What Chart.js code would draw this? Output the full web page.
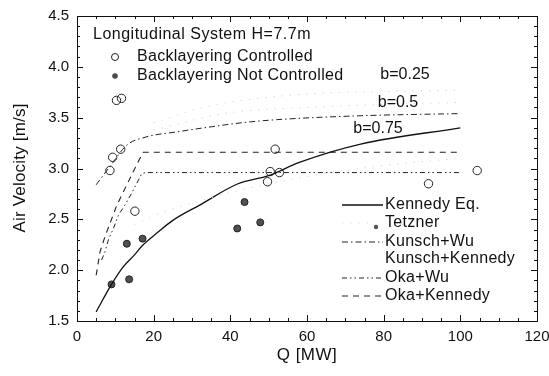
<!DOCTYPE html>
<html><head><meta charset="utf-8">
<script src="https://cdn.jsdelivr.net/npm/chart.js@4/dist/chart.umd.min.js"></script>
<style>html,body{margin:0;padding:0;background:#fff}</style>
</head><body>
<canvas id="c" width="549" height="376" style="width:549px;height:376px;display:block"></canvas>
<script>
// ---- data ----
const controlledQ = [10.3, 11.6, 11.4, 9.3, 8.6, 15.1, 51.7, 50.4, 49.7, 52.8, 104.4, 91.7];
const controlledV = [3.67, 3.69, 3.19, 3.11, 2.98, 2.58, 3.19, 2.97, 2.87, 2.96, 2.98, 2.85];
const notControlledQ = [13.0, 17.1, 13.6, 9.0, 43.7, 47.8, 41.8];
const notControlledV = [2.26, 2.31, 1.91, 1.86, 2.67, 2.47, 2.41];
const kennedyQ = [5, 9, 12, 15, 17, 21, 25, 32, 42, 50, 58, 74, 100];
const kennedyV = [1.59, 1.86, 2.03, 2.15, 2.24, 2.37, 2.49, 2.64, 2.85, 2.93, 3.06, 3.24, 3.40];
const kunschWuQ = [5, 8.6, 13, 18, 26, 35, 43, 52, 75, 100];
const kunschWuV = [2.84, 3.02, 3.23, 3.31, 3.36, 3.41, 3.45, 3.48, 3.52, 3.54];
const okaKennedyQ = [5, 6, 7.3, 8.6, 10.4, 11.7, 14.3, 16, 17.3, 100];
const okaKennedyV = [1.95, 2.18, 2.33, 2.46, 2.64, 2.74, 2.94, 3.07, 3.16, 3.16];
const okaWuQ = [6.4, 7.3, 8.2, 9.5, 10.8, 12.5, 14.3, 16.9, 18, 100];
const okaWuV = [2.10, 2.18, 2.30, 2.41, 2.54, 2.64, 2.76, 2.95, 2.96, 2.96];
const kunschKennedyQ = [20, 35, 50, 63, 70, 85, 100];
const kunschKennedyV = [3.45, 3.62, 3.70, 3.74, 3.75, 3.76, 3.77];
const kunschKennedy2Q = [20, 40, 60, 80, 90, 100];
const kunschKennedy2V = [3.38, 3.55, 3.60, 3.63, 3.64, 3.65];
const tetznerQ = [15, 23, 32, 43, 60, 80, 100];
const tetznerV = [2.45, 2.58, 2.68, 2.79, 2.92, 3.03, 3.10];
const xTickLabels = [0, 20, 40, 60, 80, 100, 120];
const yTickLabels = [1.5, 2.0, 2.5, 3.0, 3.5, 4.0, 4.5];
const legendTitle = 'Longitudinal System H=7.7m';
const curveLabels = ['b=0.25', 'b=0.5', 'b=0.75'];

const pts = (qs, vs) => qs.map((q, i) => ({x: q, y: vs[i]}));
const INK = '#111';
const FONT = '"Liberation Sans", Arial, sans-serif';

const styles = {
  kennedy: {dash: [], width: 1.3, color: INK},
  kunschWu: {dash: [6, 3, 1.5, 3], width: 1, color: '#222'},
  okaWu: {dash: [5, 3, 1.5, 3, 1.5, 3], width: 1, color: '#222'},
  okaKennedy: {dash: [6, 5], width: 1.1, color: '#222'},
  faint: {dash: [1.2, 7], width: 1, color: '#d2d2d2'}
};

function lineDs(label, qs, vs, st, mono) {
  return {label, data: pts(qs, vs), showLine: true, pointRadius: 0, borderColor: st.color,
    borderWidth: st.width, borderDash: st.dash, tension: 0, cubicInterpolationMode: mono ? 'monotone' : 'default', fill: false};
}

const datasets = [
  lineDs('Kunsch+Kennedy', kunschKennedyQ, kunschKennedyV, styles.faint, true),
  lineDs('Kunsch+Kennedy b=0.5', kunschKennedy2Q, kunschKennedy2V, styles.faint, true),
  lineDs('Tetzner', tetznerQ, tetznerV, styles.faint, true),
  lineDs('Kennedy Eq.', kennedyQ, kennedyV, styles.kennedy, true),
  lineDs('Kunsch+Wu', kunschWuQ, kunschWuV, styles.kunschWu, true),
  lineDs('Oka+Wu', okaWuQ, okaWuV, styles.okaWu, false),
  lineDs('Oka+Kennedy', okaKennedyQ, okaKennedyV, styles.okaKennedy, false),
  {label: 'Backlayering Controlled', data: pts(controlledQ, controlledV), showLine: false,
    pointRadius: 4.2, pointBackgroundColor: 'rgba(255,255,255,0)', pointBorderColor: '#222', pointBorderWidth: 1},
  {label: 'Backlayering Not Controlled', data: pts(notControlledQ, notControlledV), showLine: false,
    pointRadius: 3.5, pointBackgroundColor: '#505050', pointBorderColor: '#222', pointBorderWidth: 1}
];

function txt(ctx, s, x, y, size, align, spacing) {
  ctx.font = size + 'px ' + FONT;
  ctx.letterSpacing = (spacing || 0) + 'px';
  ctx.textAlign = align || 'left';
  ctx.textBaseline = 'middle';
  ctx.fillStyle = INK;
  ctx.fillText(s, x, y);
  ctx.letterSpacing = '0px';
}
function seg(ctx, x1, y1, x2, y2, st) {
  ctx.save();
  ctx.strokeStyle = st.color; ctx.lineWidth = st.width; ctx.setLineDash(st.dash);
  ctx.beginPath(); ctx.moveTo(x1, y1); ctx.lineTo(x2, y2); ctx.stroke();
  ctx.restore();
}

const decor = {
  id: 'decor',
  afterDraw(chart) {
    const {ctx, chartArea: a, scales: {x, y}} = chart;
    ctx.save();
    ctx.strokeStyle = INK; ctx.lineWidth = 1; ctx.setLineDash([]);
    ctx.strokeRect(Math.round(a.left) + 0.5, Math.round(a.top) + 0.5, Math.round(a.right - a.left), Math.round(a.bottom - a.top));
    ctx.beginPath();
    for (let i = 0; i <= 24; i++) {
      const px = Math.round(x.getPixelForValue(i * 5)) + 0.5;
      const L = i % 4 === 0 ? 6 : 3;
      ctx.moveTo(px, a.bottom); ctx.lineTo(px, a.bottom - L);
      ctx.moveTo(px, a.top); ctx.lineTo(px, a.top + L);
    }
    for (let i = 0; i <= 30; i++) {
      const py = Math.round(y.getPixelForValue(1.5 + i * 0.1)) + 0.5;
      const L = i % 5 === 0 ? 6 : 3;
      ctx.moveTo(a.left, py); ctx.lineTo(a.left + L, py);
      ctx.moveTo(a.right, py); ctx.lineTo(a.right - L, py);
    }
    ctx.stroke();

    // axis titles
    txt(ctx, 'Q [MW]', 307, 355, 17, 'center', 0.5);
    ctx.save();
    ctx.translate(20, 168); ctx.rotate(-Math.PI / 2);
    txt(ctx, 'Air Velocity [m/s]', 0, 0, 17, 'center', 0.2);
    ctx.restore();

    // top-left legend
    txt(ctx, legendTitle, 93, 35, 16, 'left', 0.5);
    ctx.beginPath(); ctx.arc(115, 57, 3.5, 0, Math.PI * 2); ctx.strokeStyle = '#222'; ctx.lineWidth = 1; ctx.stroke();
    txt(ctx, datasets[7].label, 137, 57, 16, 'left', 0.3);
    ctx.beginPath(); ctx.arc(115, 76, 2.8, 0, Math.PI * 2); ctx.fillStyle = '#4a4a4a'; ctx.fill();
    txt(ctx, datasets[8].label, 137, 76, 16, 'left', 0.3);

    // curve annotations
    txt(ctx, curveLabels[0], 405, 75, 16, 'center', 0);
    txt(ctx, curveLabels[1], 398, 103, 16, 'center', 0);
    txt(ctx, curveLabels[2], 378, 129, 16, 'center', 0);

    // bottom-right legend
    const lx1 = 342, lx2 = 383, tx = 385;
    const rows = [
      ['Kennedy Eq.', 205, styles.kennedy],
      ['Tetzner', 223, styles.faint],
      ['Kunsch+Wu', 242, styles.kunschWu],
      ['Kunsch+Kennedy', 259, null],
      ['Oka+Wu', 278, styles.okaWu],
      ['Oka+Kennedy', 296, styles.okaKennedy]
    ];
    rows.forEach(([s, yy, st]) => {
      if (st) seg(ctx, lx1, yy, s === 'Tetzner' ? 368 : lx2, yy, st);
      txt(ctx, s, tx, yy, 16, 'left', 0.3);
    });
    ctx.beginPath(); ctx.arc(376, 227, 2.2, 0, Math.PI * 2); ctx.fillStyle = '#555'; ctx.fill();
    ctx.restore();
  }
};

new Chart(document.getElementById('c'), {
  type: 'scatter',
  data: {datasets},
  options: {
    responsive: false, animation: false, devicePixelRatio: 1,
    layout: {padding: {top: 16, right: 12, left: 0, bottom: 0}},
    plugins: {legend: {display: false}, tooltip: {enabled: false}},
    scales: {
      x: {
        type: 'linear', min: 0, max: 120,
        afterBuildTicks: s => { s.ticks = xTickLabels.map(v => ({value: v})); },
        afterFit: s => { s.height = 55; s.paddingLeft = 0; s.paddingRight = 0; },
        grid: {display: false, drawTicks: false}, border: {display: false},
        ticks: {color: INK, padding: 7, maxRotation: 0, font: {family: FONT, size: 15}, callback: v => String(v)}
      },
      y: {
        type: 'linear', min: 1.5, max: 4.5,
        afterBuildTicks: s => { s.ticks = yTickLabels.map(v => ({value: v})); },
        afterFit: s => { s.width = 77; s.paddingTop = 0; s.paddingBottom = 0; },
        grid: {display: false, drawTicks: false}, border: {display: false},
        ticks: {color: INK, padding: 8, font: {family: FONT, size: 15}, callback: v => Number(v).toFixed(1)}
      }
    }
  },
  plugins: [decor]
});
</script>
</body></html>
